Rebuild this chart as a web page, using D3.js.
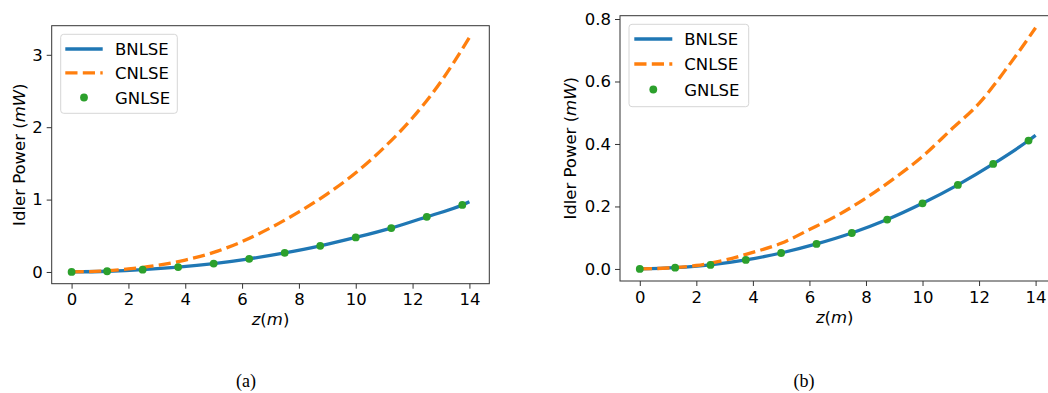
<!DOCTYPE html>
<html>
<head>
<meta charset="utf-8">
<script src="https://cdn.jsdelivr.net/npm/d3@7"></script>
<style>
  html, body { margin: 0; padding: 0; background: #fff; }
  svg { display: block; }
  text { fill: #000; }
</style>
</head>
<body>
<svg id="chart" width="1048" height="393"></svg>
<script>
// ---------- data ----------
const xTicks = [0, 2, 4, 6, 8, 10, 12, 14];
const yTicksA = [0, 1, 2, 3];
const yTicksB = [0, 0.2, 0.4, 0.6, 0.8];
const seriesNames = ["BNLSE", "CNLSE", "GNLSE"];

const zLine = [0, 1.25, 2.5, 3.75, 5, 6.25, 7.5, 8.75, 10, 11.25, 12.5, 13.75, 14];
const zMarkers = [0, 1.25, 2.5, 3.75, 5, 6.25, 7.5, 8.75, 10, 11.25, 12.5, 13.75];
const zDense = [0, 1, 2, 3, 4, 5, 6, 7, 8, 9, 10, 11, 12, 13, 14];

// panel (a)
const bnlseA = [0, 0.01, 0.032, 0.067, 0.116, 0.182, 0.264, 0.361, 0.477, 0.606, 0.762, 0.926, 0.97];
const gnlseA = [0, 0.01, 0.032, 0.067, 0.116, 0.182, 0.264, 0.361, 0.477, 0.606, 0.762, 0.926];
const cnlseA = [0, 0.012, 0.042, 0.09, 0.165, 0.27, 0.42, 0.61, 0.83, 1.08, 1.37, 1.72, 2.13, 2.63, 3.24];

// panel (b)
const bnlseB = [0, 0.004, 0.013, 0.029, 0.051, 0.080, 0.115, 0.158, 0.210, 0.269, 0.336, 0.411, 0.428];
const gnlseB = [0, 0.004, 0.013, 0.029, 0.051, 0.080, 0.115, 0.158, 0.210, 0.269, 0.336, 0.411];
const cnlseB = [0, 0.003, 0.011, 0.028, 0.053, 0.082, 0.126, 0.172, 0.227, 0.29, 0.36, 0.445, 0.53, 0.645, 0.772];

const captions = ["(a)", "(b)"];

// ---------- drawing ----------
const svg = d3.select("#chart");
const colors = { BNLSE: "#1f77b4", CNLSE: "#ff7f0e", GNLSE: "#2ca02c" };
const FS = 16.5;
const SANS = "'DejaVu Sans', sans-serif";
const SERIF = "'Liberation Serif', 'DejaVu Serif', serif";

function drawPanel(cfg) {
  const x = d3.scaleLinear().domain([-0.7, 14.7]).range([cfg.left, cfg.right]);
  const ymax = d3.max(cfg.cnlse);
  const ymin = 0;
  const pad = (ymax - ymin) * 0.05;
  const y = d3.scaleLinear().domain([ymin - pad, ymax + pad]).range([cfg.bottom, cfg.top]);

  const g = svg.append("g").style("font-family", SANS);

  // frame
  g.append("rect")
    .attr("x", cfg.left).attr("y", cfg.top)
    .attr("width", cfg.right - cfg.left).attr("height", cfg.bottom - cfg.top)
    .attr("fill", "none").attr("stroke", "#333").attr("stroke-width", 1);

  // x axis
  const xAxis = d3.axisBottom(x).tickValues(xTicks).tickSize(5).tickPadding(4).tickFormat(d3.format("d"));
  const gx = g.append("g").attr("transform", `translate(0,${cfg.bottom})`).call(xAxis);
  gx.attr("font-family", null).attr("font-size", null);
  gx.select(".domain").remove();
  gx.selectAll(".tick line").attr("stroke", "#333");
  gx.selectAll(".tick text").style("font-size", FS + "px").style("font-family", SANS)
    .attr("dy", null).attr("y", cfg.xTickBase - cfg.bottom).attr("fill", "#000");

  // y axis
  const yAxis = d3.axisLeft(y).tickValues(cfg.yTicks).tickSize(5).tickPadding(4).tickFormat(d3.format(cfg.yFmt));
  const gy = g.append("g").attr("transform", `translate(${cfg.left},0)`).call(yAxis);
  gy.attr("font-family", null).attr("font-size", null);
  gy.select(".domain").remove();
  gy.selectAll(".tick line").attr("stroke", "#333");
  gy.selectAll(".tick text").style("font-size", FS + "px").style("font-family", SANS).attr("fill", "#000");

  // x label
  const xl = g.append("text")
    .attr("x", (cfg.left + cfg.right) / 2 + cfg.xLabelShift).attr("y", cfg.xLabelBase)
    .attr("text-anchor", "middle").style("font-size", FS + "px");
  xl.append("tspan").style("font-style", "italic").text("z");
  xl.append("tspan").text("(");
  xl.append("tspan").style("font-style", "italic").text("m");
  xl.append("tspan").text(")");

  // y label
  const ycy = (cfg.top + cfg.bottom) / 2;
  const yl = g.append("text")
    .attr("transform", `translate(${cfg.yLabelX},${ycy}) rotate(-90)`)
    .attr("text-anchor", "middle").style("font-size", FS + "px");
  yl.append("tspan").text("Idler Power (");
  yl.append("tspan").style("font-style", "italic").text("mW");
  yl.append("tspan").text(")");

  // lines
  const line = d3.line().x(d => x(d[0])).y(d => y(d[1])).curve(d3.curveMonotoneX);
  g.append("path")
    .attr("d", line(zLine.map((z, i) => [z, cfg.bnlse[i]])))
    .attr("fill", "none").attr("stroke", colors.BNLSE).attr("stroke-width", 3.3);
  g.append("path")
    .attr("d", line(zDense.map((z, i) => [z, cfg.cnlse[i]])))
    .attr("fill", "none").attr("stroke", colors.CNLSE).attr("stroke-width", 3.3)
    .attr("stroke-dasharray", "12.2,5.3");
  g.selectAll("circle.pt").data(zMarkers.map((z, i) => [z, cfg.gnlse[i]]))
    .enter().append("circle").attr("class", "pt")
    .attr("cx", d => x(d[0])).attr("cy", d => y(d[1])).attr("r", 3.9)
    .attr("fill", colors.GNLSE);

  // legend
  const L = cfg.legend;
  const lg = g.append("g");
  lg.append("rect")
    .attr("x", L.x0).attr("y", L.y0).attr("width", L.x1 - L.x0).attr("height", L.y1 - L.y0)
    .attr("rx", 3).attr("fill", "#fff").attr("fill-opacity", 0.8)
    .attr("stroke", "#d6d6d6").attr("stroke-width", 1);
  seriesNames.forEach((name, i) => {
    const cy = L.rows[i];
    if (name === "BNLSE") {
      lg.append("line").attr("x1", L.h0).attr("x2", L.h1).attr("y1", cy).attr("y2", cy)
        .attr("stroke", colors.BNLSE).attr("stroke-width", 3.3);
    } else if (name === "CNLSE") {
      lg.append("line").attr("x1", L.h0).attr("x2", L.h1).attr("y1", cy).attr("y2", cy)
        .attr("stroke", colors.CNLSE).attr("stroke-width", 3.3).attr("stroke-dasharray", "12.2,5.3");
    } else {
      lg.append("circle").attr("cx", (L.h0 + L.h1) / 2).attr("cy", cy).attr("r", 3.9)
        .attr("fill", colors.GNLSE);
    }
    lg.append("text").attr("x", L.tx).attr("y", cy + 6).style("font-size", FS + "px").text(name);
  });

  // caption
  svg.append("text").attr("x", cfg.capX).attr("y", 387)
    .attr("text-anchor", "middle").style("font-size", "18px")
    .style("font-family", SERIF).text(cfg.caption);
}

drawPanel({
  left: 51.7, right: 489.3, top: 25.7, bottom: 283.7,
  yTicks: yTicksA, yFmt: "d",
  bnlse: bnlseA, gnlse: gnlseA, cnlse: cnlseA,
  xTickBase: 305, xLabelBase: 325, xLabelShift: 0, yLabelX: 25,
  legend: { x0: 60.7, x1: 177.3, y0: 34.3, y1: 113.3, rows: [49, 72.8, 97.5], h0: 65.3, h1: 102.7, tx: 115 },
  capX: 246, caption: captions[0]
});

drawPanel({
  left: 620, right: 1055.4, top: 15.7, bottom: 281,
  yTicks: yTicksB, yFmt: ".1f",
  bnlse: bnlseB, gnlse: gnlseB, cnlse: cnlseB,
  xTickBase: 302.5, xLabelBase: 323, xLabelShift: -3, yLabelX: 576,
  legend: { x0: 629, x1: 748.7, y0: 24.3, y1: 106.7, rows: [39, 64, 89.5], h0: 634.3, h1: 672.3, tx: 684.3 },
  capX: 804, caption: captions[1]
});
</script>
</body>
</html>
